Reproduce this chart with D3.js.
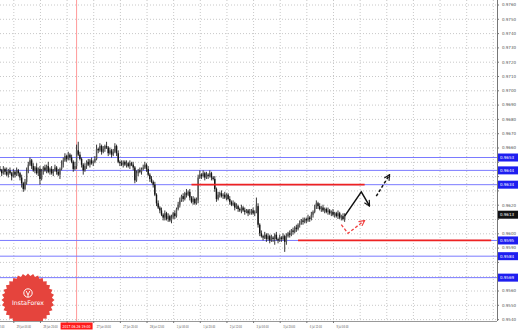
<!DOCTYPE html>
<html>
<head>
<meta charset="utf-8">
<script src="https://cdn.jsdelivr.net/npm/d3@7"></script>
<style>
  body { margin: 0; background: #fff; }
  svg { display: block; }
  text { font-family: "DejaVu Sans", sans-serif; }
</style>
</head>
<body>
<div id="wrap"></div>
<script>
// price labels on the right axis
const priceTicks = ["0.9760","0.9750","0.9740","0.9730","0.9720","0.9710","0.9700","0.9690",
  "0.9680","0.9670","0.9660","0.9650","0.9640","0.9630","0.9620","0.9610","0.9600","0.9590",
  "0.9580","0.9570","0.9560","0.9550","0.9540"];
// time labels, bar index of each
const timeTicks = [-8, 8, 24, 40, 56, 72, 88, 104, 120, 136, 152, 168, 184, 200];
const timeLabels = ["24 Jun 12:00","25 Jun 04:00","25 Jun 20:00","26 Jun 12:00","27 Jun 04:00",
  "27 Jun 20:00","28 Jun 12:00","1 Jul 04:00","1 Jul 20:00","2 Jul 12:00","3 Jul 04:00",
  "3 Jul 20:00","4 Jul 12:00","5 Jul 04:00"];

// H1 closes, in pips
const firstOpen = 9645;
const closePips = [
  9644,9642,9645,9643,9641,9644, 9642,9640,9643,9641,9644,9642,9639, 9635,9631,9636,
  9643,9648,9651,
  9647,9644,9646,9642,9645,9638,9643,9646,9644,9647,9643,9645,9642,9644,9646,9643,9641,9645,
  9648,9651,9654,9652,9655,9653,9650, 9645,9647, 9658,9655, 9652,9648,9644,
  9647,9650,9648,9651,9649,9650,9652, 9659,9658,9661,
  9657,9659,9661,9660,9656,9658,9655,9657, 9661,9656,
  9650,9649,9648,9650,9648,9649,9647,9649,9648,9646, 9637,
  9642,9644,9643,9645,9646,9648, 9645,9641,9638,9636,9634, 9627,9621,9618,9616,
  9613,9611,9614,9610,9612,9609, 9611,9614,9612,9617, 9620,9623,9626,9624,
  9628,9627,9629, 9625,9622,9624,9621,9623, 9639,
  9641,9640,9642,9639,9641,9640,9642,9639,9638, 9631,9624,9627,
  9628,9626,9627,9625,9627,9624, 9622,9620,9621,9618,9619,9617,9616,9618,9616,
  9615,9616,9614,9615,9616,9614,9615, 9619, 9606,9600,9598,9597,
  9599,9596,9598,9595,9597,9596,9599,9596,9595,9597,9596,9598, 9594,
  9598,9600,9599,9602,9601,9604,9603,9606, 9607,9609,9608,9610,9609,9611,9610,9613,9615,
  9618,9621,9619, 9617,9618,9616,9617,9615,9616, 9614,9615,9613,9614,9612,9614,
  9611,9612,9610,9613
];
// upper and lower shadows, in pips
const wickUp = [
  2,1,2,1,3,1,2,1,2,1, 2,1,1,2,1,2,3,2,2,1, 2,1,3,1,2,2,1,2,1,3, 1,2,1,2,1,2,1,3,2,2,
  1,2,1,2,1,3,4,6,2,1, 1,2,1,2,1,2,1,2,3,1, 2,1,2,1,3,1,2,1,2,2, 1,2,1,2,1,1,2,1,2,1,
  2,1,2,1,2,1,2,2,1,2, 1,2,1,2,1,2,1,2,1,2, 1,2,1,2,1,2,1,2,2,1, 2,1,3,1,2,1,2,1,2,2,
  3,1,2,1,2,1,2,1,1,2, 1,2,1,2,1,2,1,1,2,1, 2,1,2,1,1,2,1,2,1,1, 2,1,2,1,6,2,1,2,1,2,
  1,2,1,2,1,1,2,1,2,1, 2,1,2,1,2,1,2,1,2,1, 2,1,2,1,1,2,1,2,1,2, 2,1,2,1,2,1,1,2,1,1,
  2,1,1,2,1,1,2,1
];
const wickDn = [
  1,2,1,2,1,2,1,3,1,2, 1,2,2,3,2,1,2,1,1,2, 1,2,1,2,4,1,2,1,2,1, 2,1,2,1,2,1,3,1,2,1,
  2,1,2,1,2,1,2,1,1,2, 3,1,2,1,2,1,2,1,1,2, 1,2,1,2,1,2,1,2,1,1, 2,1,2,1,2,1,2,1,2,1,
  2,2,1,2,1,2,1,1,2,1, 2,1,2,1,2,1,2,1,2,2, 1,2,1,2,1,2,1,1,2,1, 2,1,2,1,2,1,2,1,1,2,
  1,2,1,2,1,2,1,2,1,2, 2,1,2,1,2,1,2,1,2,1, 1,2,1,2,1,2,1,2,1,2, 1,2,1,2,1,2,2,1,2,1,
  2,1,2,1,2,4,1,2,1,2, 1,7,2,1,2,1,2,1,2,1, 2,1,2,1,2,1,2,1,2,1, 1,2,1,2,1,2,1,2,1,2,
  1,2,1,2,1,2,1,2
];

// horizontal levels (blue), red marked levels, arrows
const blueLevels = [0.9653, 0.9644, 0.9634, 0.9595, 0.9584, 0.9569];
const redFrom = [115, 179];
const redTo = [219, 295];
const redPrice = [0.9634, 0.9595];
const arrowSolid = [[207, 0.9612], [217, 0.9629], [222, 0.9619]];
const arrowDash = [[226, 0.9626], [234, 0.9641]];
const arrowRed = [[205, 0.9606], [209, 0.9600], [219, 0.9609]];
const markBar = 46;
const markLabel = "2017.06.26 19:00";

const width = 518;
const height = 330;
const plotR = 497;
const plotB = 321;

const xScale = d3.scaleLinear().domain([0, 298.5]).range([0, plotR]);
const yScale = d3.scaleLinear().domain([0.9540, 0.9760]).range([319.1, 4.5]);

const svg = d3.select("#wrap").append("svg")
  .attr("width", width)
  .attr("height", height);

svg.append("defs").append("clipPath").attr("id", "plot")
  .append("rect").attr("x", 0).attr("y", 0).attr("width", plotR).attr("height", plotB);

function addMarker(id, color) {
  svg.select("defs").append("marker")
    .attr("id", id)
    .attr("viewBox", "0 0 10 10")
    .attr("refX", 9).attr("refY", 5)
    .attr("markerWidth", 7).attr("markerHeight", 7)
    .attr("markerUnits", "userSpaceOnUse")
    .attr("orient", "auto")
    .append("path")
    .attr("d", "M1,1 L9,5 L1,9")
    .attr("fill", "none")
    .attr("stroke", color)
    .attr("stroke-width", 1.6);
}
addMarker("arrBlack", "#111");
addMarker("arrRed", "#f04040");

const plot = svg.append("g").attr("clip-path", "url(#plot)");

// grid
const gy = plot.append("g")
  .call(d3.axisRight(yScale).tickValues(priceTicks.map(Number)).tickSize(plotR).tickFormat(""));
const gx = plot.append("g")
  .call(d3.axisBottom(xScale).tickValues(d3.range(8, 299, 16)).tickSize(plotB).tickFormat(""));
[gy, gx].forEach(g => {
  g.select(".domain").remove();
  g.selectAll("line").attr("stroke", "#c8c8c8").attr("stroke-dasharray", "1,2");
});

// red vertical marker line
plot.append("line")
  .attr("x1", xScale(markBar)).attr("x2", xScale(markBar))
  .attr("y1", 0).attr("y2", plotB)
  .attr("stroke", "#ff9a9a").attr("stroke-width", 1);

// blue levels
plot.selectAll(".lvl").data(blueLevels).enter().append("line")
  .attr("x1", 0).attr("x2", plotR)
  .attr("y1", d => yScale(d)).attr("y2", d => yScale(d))
  .attr("stroke", "#7a7aff").attr("stroke-width", 1);

// candles
const bars = closePips.map((c, i) => {
  const o = i === 0 ? firstOpen : closePips[i - 1];
  return {
    i: i,
    o: o / 10000,
    c: c / 10000,
    h: (Math.max(o, c) + wickUp[i]) / 10000,
    l: (Math.min(o, c) - wickDn[i]) / 10000
  };
});
const cg = plot.append("g");
cg.selectAll("line").data(bars).enter().append("line")
  .attr("x1", d => xScale(d.i)).attr("x2", d => xScale(d.i))
  .attr("y1", d => yScale(d.h)).attr("y2", d => yScale(d.l))
  .attr("stroke", "#222").attr("stroke-width", 0.9);
cg.selectAll("rect").data(bars).enter().append("rect")
  .attr("x", d => xScale(d.i) - 0.7)
  .attr("width", 1.4)
  .attr("y", d => yScale(Math.max(d.o, d.c)))
  .attr("height", d => Math.max(0.8, Math.abs(yScale(d.o) - yScale(d.c))))
  .attr("fill", d => d.c >= d.o ? "#555" : "#111");

// red levels
plot.selectAll(".red").data(redPrice).enter().append("line")
  .attr("x1", (d, i) => xScale(redFrom[i])).attr("x2", (d, i) => xScale(redTo[i]))
  .attr("y1", d => yScale(d)).attr("y2", d => yScale(d))
  .attr("stroke", "#ee2222").attr("stroke-width", 1.8);

// arrows
const line = d3.line().x(d => xScale(d[0])).y(d => yScale(d[1]));
plot.append("path").attr("d", line(arrowSolid))
  .attr("fill", "none").attr("stroke", "#111").attr("stroke-width", 1.5)
  .attr("marker-end", "url(#arrBlack)");
plot.append("path").attr("d", line(arrowDash))
  .attr("fill", "none").attr("stroke", "#111").attr("stroke-width", 1.5)
  .attr("stroke-dasharray", "3,2")
  .attr("marker-end", "url(#arrBlack)");
plot.append("path").attr("d", line(arrowRed))
  .attr("fill", "none").attr("stroke", "#f04040").attr("stroke-width", 1.3)
  .attr("stroke-dasharray", "3,2")
  .attr("marker-end", "url(#arrRed)");

// logo
const logo = plot.append("g").attr("transform", "translate(28,300)");
const star = d3.range(64).map(k => [k * Math.PI / 32, k % 2 ? 24 : 26.5]);
logo.append("path")
  .attr("d", d3.lineRadial().curve(d3.curveLinearClosed)(star))
  .attr("fill", "#e5443d");
logo.append("circle").attr("cy", -7).attr("r", 4.2)
  .attr("fill", "none").attr("stroke", "#fff").attr("stroke-width", 1);
logo.append("path").attr("d", "M-1.8,-9 L0,-5 L1.8,-9 M0,-5 L0,-3")
  .attr("fill", "none").attr("stroke", "#fff").attr("stroke-width", 0.9);
logo.append("text").attr("y", 5).attr("text-anchor", "middle")
  .attr("font-size", 6.2).attr("fill", "#fff").text("InstaForex");

// frame
svg.append("line").attr("x1", plotR + 0.5).attr("x2", plotR + 0.5).attr("y1", 0).attr("y2", plotB)
  .attr("stroke", "#777");
svg.append("line").attr("x1", 0).attr("x2", plotR).attr("y1", plotB + 0.5).attr("y2", plotB + 0.5)
  .attr("stroke", "#999");

// right axis
const boxPrices = blueLevels.concat([closePips[closePips.length - 1] / 10000]);
const ya = svg.append("g").attr("transform", `translate(${plotR},0)`)
  .call(d3.axisRight(yScale).tickValues(priceTicks.map(Number)).tickSize(2).tickPadding(3)
    .tickFormat((d, i) => priceTicks[i]));
ya.select(".domain").remove();
ya.selectAll("line").attr("stroke", "#777");
ya.selectAll("text").attr("font-size", 4.2).attr("fill", "#555")
  .attr("textLength", 14).attr("lengthAdjust", "spacingAndGlyphs")
  .style("font-family", "DejaVu Sans");
// labels under a price box are hidden by it
ya.selectAll(".tick")
  .filter(d => boxPrices.some(p => Math.abs(yScale(p) - yScale(d)) < 7))
  .select("text").remove();

// bottom axis: labels squeezed horizontally like the terminal's small font
const xa = svg.append("g").attr("transform", `translate(0,${plotB})`)
  .call(d3.axisBottom(xScale).tickValues(timeTicks).tickSize(2).tickPadding(2.5)
    .tickFormat((d, i) => timeLabels[i]));
xa.select(".domain").remove();
xa.selectAll("line").attr("stroke", "#777");
xa.selectAll("text").attr("font-size", 4).attr("fill", "#555")
  .attr("text-anchor", "start").attr("x", 3).attr("dx", null)
  .attr("transform", "scale(0.56,1)")
  .style("font-family", "DejaVu Sans");
xa.selectAll(".tick text").attr("x", 3 / 0.56);
// the label under the time marker box is hidden by it
xa.selectAll(".tick").filter(d => Math.abs(xScale(d) - xScale(markBar)) < 16)
  .select("text").remove();

// level boxes
const boxes = svg.append("g");
function priceBox(p, fill) {
  const y = yScale(p);
  boxes.append("rect").attr("x", plotR + 1).attr("y", y - 4).attr("width", 20).attr("height", 8)
    .attr("fill", fill);
  boxes.append("text").attr("x", plotR + 3).attr("y", y + 1.6)
    .attr("font-size", 4.2).attr("fill", "#fff")
    .attr("textLength", 14).attr("lengthAdjust", "spacingAndGlyphs")
    .text(p.toFixed(4));
}
blueLevels.forEach(p => priceBox(p, "#1e1ef0"));
priceBox(closePips[closePips.length - 1] / 10000, "#111");

// time marker box
const mx = xScale(markBar);
svg.append("rect").attr("x", mx - 16).attr("y", plotB + 1.5).attr("width", 32).attr("height", 7)
  .attr("fill", "#ff1a1a");
svg.append("text").attr("x", mx).attr("y", plotB + 6.6).attr("text-anchor", "middle")
  .attr("font-size", 4).attr("fill", "#fff")
  .attr("textLength", 28).attr("lengthAdjust", "spacingAndGlyphs")
  .text(markLabel);
</script>
</body>
</html>
